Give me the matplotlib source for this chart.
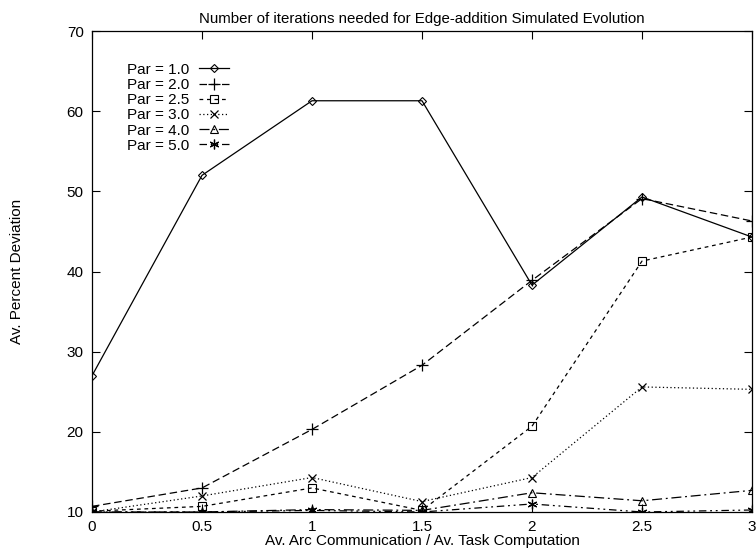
import matplotlib
matplotlib.use("Agg")
import matplotlib.pyplot as plt

plt.rcParams["font.family"] = ["Liberation Sans", "DejaVu Sans"]

ratio = [0, 0.5, 1, 1.5, 2, 2.5, 3]
par_1_0 = [27.0, 52.0, 61.3, 61.3, 38.3, 49.3, 44.3]
par_2_0 = [10.7, 13.0, 20.3, 28.3, 38.9, 49.1, 46.3]
par_2_5 = [10.1, 10.7, 13.0, 10.2, 20.7, 41.3, 44.3]
par_3_0 = [10.0, 12.0, 14.3, 11.3, 14.3, 25.6, 25.3]
par_4_0 = [10.0, 10.0, 10.3, 10.2, 12.4, 11.4, 12.7]
par_5_0 = [10.0, 10.0, 10.2, 10.0, 11.0, 10.0, 10.25]

fig = plt.figure(figsize=(7.56, 5.5), dpi=100)
ax = fig.add_axes([0.1217, 0.0691, 0.873, 0.8745])

lw = 0.9
ax.plot(ratio, par_1_0, color="black", lw=lw, ls="-", marker="D", ms=4.5,
        mfc="none", mew=0.8, label="Par = 1.0")
ax.plot(ratio, par_2_0, color="black", lw=lw, ls=(0, (6, 3)), marker="+", ms=8,
        mew=0.9, label="Par = 2.0")
ax.plot(ratio, par_2_5, color="black", lw=lw, ls=(0, (3, 3)), marker="s", ms=6,
        mfc="none", mew=0.8, label="Par = 2.5")
ax.plot(ratio, par_3_0, color="black", lw=lw, ls=(0, (1, 2)), marker="x", ms=6,
        mew=0.9, label="Par = 3.0")
ax.plot(ratio, par_4_0, color="black", lw=lw, ls=(0, (8, 3, 1.5, 3)), marker="^",
        ms=6, mfc="none", mew=0.8, label="Par = 4.0")
ax.plot(ratio, par_5_0, color="black", lw=lw, ls=(0, (6, 3, 1.5, 3, 1.5, 3)),
        marker=(6, 2, 0), ms=7, mew=0.9, label="Par = 5.0")

ax.set_xlim(0, 3)
ax.set_ylim(10, 70)
ax.set_xticks(ratio)
ax.set_xticklabels(["0", "0.5", "1", "1.5", "2", "2.5", "3"])
ax.set_yticks([10, 20, 30, 40, 50, 60, 70])
ax.tick_params(direction="in", top=True, right=True, length=6, width=0.8,
               labelsize=11, pad=6)
for s in ax.spines.values():
    s.set_linewidth(0.9)

ax.set_title("Number of iterations needed for Edge-addition Simulated Evolution",
             fontsize=10.8, pad=6)
ax.set_xlabel("Av. Arc Communication / Av. Task Computation", fontsize=11, labelpad=0)
ax.set_ylabel("Av. Percent Deviation", fontsize=11, labelpad=31)

ax.legend(loc="upper left", bbox_to_anchor=(0.041, 0.95), frameon=False,
          markerfirst=False, fontsize=11, handlelength=2.0, handletextpad=0.65,
          labelspacing=0.08, borderpad=0)

fig.savefig("out.png", dpi=100)
